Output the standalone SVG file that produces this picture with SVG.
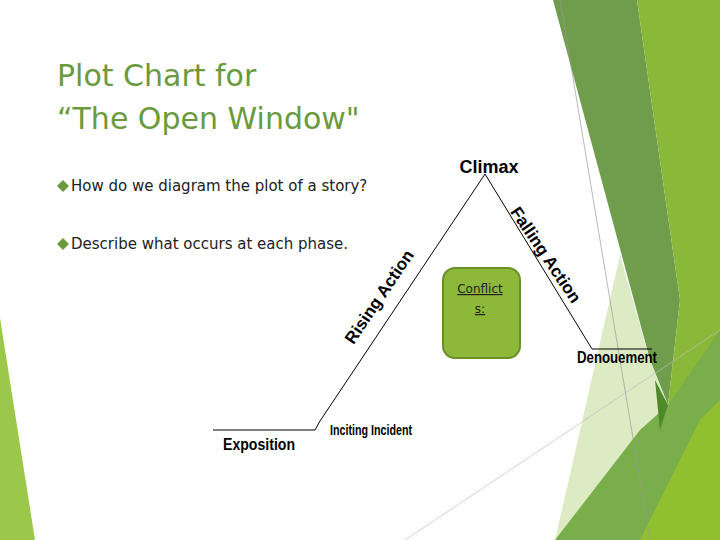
<svg xmlns="http://www.w3.org/2000/svg" width="720" height="540" viewBox="0 0 720 540">
<style>
.t{font-family:"DejaVu Sans",sans-serif;fill:#6b9a3e}
.b{font-family:"DejaVu Sans",sans-serif;font-size:15px;fill:#222}
.l{font-family:"Liberation Sans",Arial,sans-serif;font-weight:bold;fill:#000}
.ln{stroke:#000;stroke-width:1;fill:none}
</style>
<rect width="720" height="540" fill="#fff"/>
<g id="background">
<polygon points="0,318 35,540 0,540" fill="#9bc84a"/>
<polygon points="553,0 637,0 680,300 668,405 650,360" fill="#6f9d4c"/>
<polygon points="637,0 720,0 720,540 655,540 668,405 680,300" fill="#8ab93a"/>
<polygon points="620,255 650,360 668,405 640,460 555,540" fill="#dcebc4"/>
<polygon points="555,540 640,430 668,405 720,330 720,540" fill="#79ae4a"/>
<polygon points="640,540 700,420 720,400 720,540" fill="#90c030"/>
<polygon points="655,380 668,405 660,430" fill="#4f8a2a"/>
<line x1="560" y1="0" x2="650" y2="540" stroke="#999" stroke-width="0.7"/>
<line x1="405" y1="540" x2="720" y2="330" stroke="#bbb" stroke-width="0.7"/>
</g>
<g id="title">
<text class="t" x="57" y="86" font-size="30">Plot Chart for</text>
<text class="t" x="57" y="129" font-size="30">“The Open Window"</text>
</g>
<g id="bullets">
<path d="M63,180 l6,6 -6,6 -6,-6z" fill="#6b9a3e"/>
<text class="b" x="71" y="191">How  do we diagram the plot of a story?</text>
<path d="M63,238 l6,6 -6,6 -6,-6z" fill="#6b9a3e"/>
<text class="b" x="71" y="249">Describe what occurs at each phase.</text>
</g>
<g id="connectors">
<polyline class="ln" points="213,430 315,430 320,421 485,174 592,349 652,349"/>
</g>
<g id="climax"><text class="l" x="489" y="173" font-size="18" font-weight="normal" text-anchor="middle" style="font-weight:bold">Climax</text></g>
<g id="rising"><text class="l" font-size="17" text-anchor="middle" transform="translate(384,300) rotate(-56)">Rising Action</text></g>
<g id="falling"><text class="l" font-size="17" text-anchor="middle" transform="translate(541,258) rotate(56)">Falling Action</text></g>
<g id="denouement"><text class="l" x="617" y="363" font-size="16" text-anchor="middle" textLength="80" lengthAdjust="spacingAndGlyphs">Denouement</text></g>
<g id="inciting"><text class="l" x="371" y="435" font-size="15" text-anchor="middle" textLength="82" lengthAdjust="spacingAndGlyphs">Inciting Incident</text></g>
<g id="exposition"><text class="l" x="259" y="450" font-size="16" text-anchor="middle" textLength="72" lengthAdjust="spacingAndGlyphs">Exposition</text></g>
<g id="conflicts">
<rect x="443" y="268" width="77" height="90" rx="12" fill="#8db83a" stroke="#6a8f2a" stroke-width="2"/>
<text x="480" y="293" font-family="DejaVu Sans,sans-serif" font-size="12" text-anchor="middle" text-decoration="underline" fill="#222">Conflict</text>
<text x="480" y="313" font-family="DejaVu Sans,sans-serif" font-size="12" text-anchor="middle" text-decoration="underline" fill="#222">s:</text>
</g>
</svg>
